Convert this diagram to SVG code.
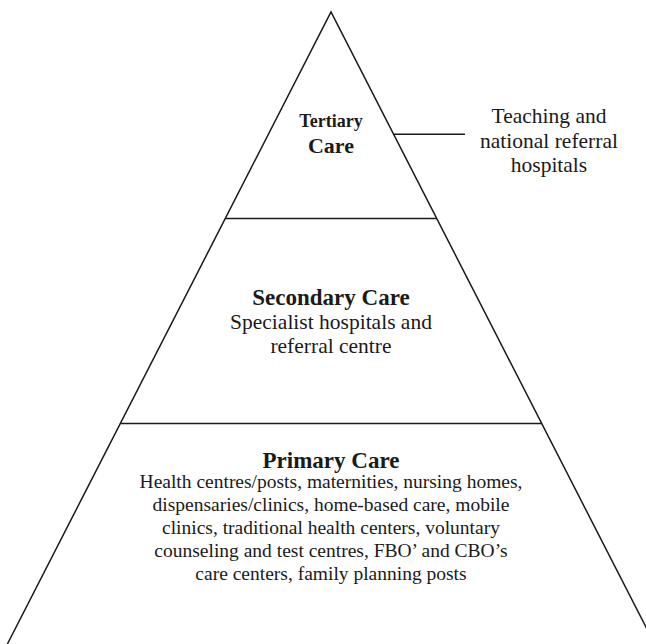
<svg xmlns="http://www.w3.org/2000/svg" width="646" height="644" viewBox="0 0 646 644">
  <style>
    .edge { stroke: #1a1a1a; stroke-width: 1.5; fill: none; }
    .t { font-family: "Liberation Serif", "Times New Roman", serif; fill: #1a1a1a; text-anchor: middle; }
    .b { font-weight: bold; }
  </style>
  <rect width="646" height="644" fill="#ffffff"/>

  <!-- pyramid outline and tier dividers -->
  <g id="pyramid">
    <path class="edge" d="M7.4,644 L331,12 L654.6,644"/>
    <line class="edge" x1="225" y1="218.5" x2="437" y2="218.5"/>
    <line class="edge" x1="120" y1="423.5" x2="542" y2="423.5"/>
  </g>

  <g id="connectors">
    <line class="edge" x1="393" y1="134.3" x2="465" y2="134.3"/>
  </g>

  <g id="tertiary">
    <text class="t b" x="331" y="127" font-size="18">Tertiary</text>
    <text class="t b" x="331" y="153" font-size="22">Care</text>
  </g>

  <g id="tertiary-note">
    <text class="t" x="549" y="123" font-size="21.5">Teaching and</text>
    <text class="t" x="549" y="148" font-size="21.5">national referral</text>
    <text class="t" x="549" y="172" font-size="21.5">hospitals</text>
  </g>

  <g id="secondary">
    <text class="t b" x="331" y="305" font-size="23">Secondary Care</text>
    <text class="t" x="331" y="329.3" font-size="21.5">Specialist hospitals and</text>
    <text class="t" x="331" y="353" font-size="21.5">referral centre</text>
  </g>

  <g id="primary">
    <text class="t b" x="331" y="468" font-size="23">Primary Care</text>
    <text class="t" x="331" y="488" font-size="19.5">Health centres/posts, maternities, nursing homes,</text>
    <text class="t" x="331" y="511" font-size="19.5">dispensaries/clinics, home-based care, mobile</text>
    <text class="t" x="331" y="534" font-size="19.5">clinics, traditional health centers, voluntary</text>
    <text class="t" x="331" y="557" font-size="19.5">counseling and test centres, FBO’ and CBO’s</text>
    <text class="t" x="331" y="580" font-size="19.5">care centers, family planning posts</text>
  </g>
</svg>
